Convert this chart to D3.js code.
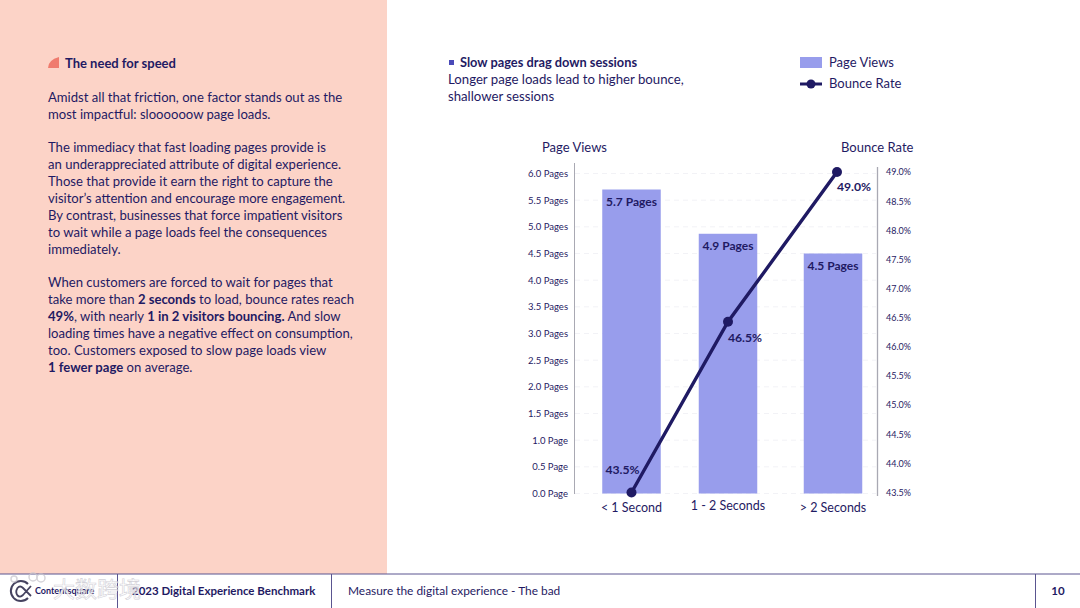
<!DOCTYPE html>
<html>
<head>
<meta charset="utf-8">
<script src="https://cdn.jsdelivr.net/npm/d3@7/dist/d3.min.js"></script>
<style>
  html, body { margin: 0; padding: 0; background: #fff; }
  svg { display: block; }
  text { font-family: "Lato", "Noto Sans", sans-serif; fill: #1f1a63; }
</style>
</head>
<body>
<svg id="slide" width="1080" height="608"></svg>
<script>
// data
const categories = ["< 1 Second", "1 - 2 Seconds", "> 2 Seconds"];
const pageViews = [5.7, 4.87, 4.5];
const pageViewLabels = ["5.7 Pages", "4.9 Pages", "4.5 Pages"];
const bounceRate = [43.5, 46.43, 49.0];
const bounceLabels = ["43.5%", "46.5%", "49.0%"];
const pageTicks = [0, 0.5, 1, 1.5, 2, 2.5, 3, 3.5, 4, 4.5, 5, 5.5, 6];
const bounceTicks = [43.5, 44, 44.5, 45, 45.5, 46, 46.5, 47, 47.5, 48, 48.5, 49];

const leftParagraphs = [
  [[["Amidst all that friction, one factor stands out as the", 0]], [["most impactful: sloooooow page loads.", 0]]],
  [[["The immediacy that fast loading pages provide is", 0]],
   [["an underappreciated attribute of digital experience.", 0]],
   [["Those that provide it earn the right to capture the", 0]],
   [["visitor\u2019s attention and encourage more engagement.", 0]],
   [["By contrast, businesses that force impatient visitors", 0]],
   [["to wait while a page loads feel the consequences", 0]],
   [["immediately.", 0]]],
  [[["When customers are forced to wait for pages that", 0]],
   [["take more than ", 0], ["2 seconds", 1], [" to load, bounce rates reach", 0]],
   [["49%", 1], [", with nearly ", 0], ["1 in 2 visitors bouncing.", 1], [" And slow", 0]],
   [["loading times have a negative effect on consumption,", 0]],
   [["too. Customers exposed to slow page loads view", 0]],
   [["1 fewer page", 1], [" on average.", 0]]]
];

const svg = d3.select("#slide");
const navy = "#1f1a63";
const barColor = "#989dec";

// ---- panel
svg.append("rect").attr("width", 387).attr("height", 574).attr("fill", "#fcd3c7");

// ---- left text
svg.append("path").attr("d", "M48 68Q48 60 59 57V68Z").attr("fill", "#ef7b6e");
svg.append("text").attr("x", 65).attr("y", 67.5).attr("font-size", 13)
  .attr("font-weight", 700).text("The need for speed");

let lineY = 102;
leftParagraphs.forEach(par => {
  par.forEach(line => {
    const t = svg.append("text").attr("x", 48).attr("y", lineY).attr("font-size", 13.1);
    line.forEach(run => t.append("tspan").attr("font-weight", run[1] ? 700 : 400).text(run[0]));
    lineY += 17;
  });
  lineY += 16;
});

// ---- chart heading
svg.append("rect").attr("x", 449).attr("y", 60).attr("width", 5).attr("height", 5).attr("fill", "#4a4ab8");
svg.append("text").attr("x", 460).attr("y", 67).attr("font-size", 12.8).attr("font-weight", 700)
  .text("Slow pages drag down sessions");
svg.append("text").attr("x", 448).attr("y", 84).attr("font-size", 13.2).text("Longer page loads lead to higher bounce,");
svg.append("text").attr("x", 448).attr("y", 101).attr("font-size", 13.2).text("shallower sessions");

// ---- legend
svg.append("rect").attr("x", 800).attr("y", 57).attr("width", 22).attr("height", 11).attr("fill", barColor);
svg.append("line").attr("x1", 800).attr("x2", 822).attr("y1", 84).attr("y2", 84)
  .attr("stroke", navy).attr("stroke-width", 3);
svg.append("circle").attr("cx", 811).attr("cy", 84).attr("r", 4.5).attr("fill", navy);
svg.append("text").attr("x", 829).attr("y", 67).attr("font-size", 13).text("Page Views");
svg.append("text").attr("x", 829).attr("y", 88).attr("font-size", 13).text("Bounce Rate");

// ---- scales
const y = d3.scaleLinear().domain([0, 6]).range([493.5, 173.5]);
const yRight = d3.scaleLinear().domain([43.5, 49]).range([492.5, 172]);
const xBar = d3.scaleOrdinal().domain(categories).range([631.5, 728, 833]);
const xPoint = d3.scaleOrdinal().domain(categories).range([631.5, 728, 837]);
const barWidth = 58.5;

// ---- gridlines
svg.append("g").selectAll("line").data(pageTicks).enter().append("line")
  .attr("x1", 575).attr("x2", 876)
  .attr("y1", d => y(d)).attr("y2", d => y(d))
  .attr("stroke", "#efeff4").attr("stroke-width", 0.8).attr("stroke-dasharray", "5 4");

// ---- axes
const leftAxis = svg.append("g").attr("transform", "translate(574,0)")
  .call(d3.axisLeft(y).tickValues(pageTicks).tickSize(0).tickPadding(6)
    .tickFormat(d => d3.format(".1f")(d) + (d <= 1 ? " Page" : " Pages")));
leftAxis.select(".domain").attr("stroke", "#a9a9b3").attr("d", "M0.5,163V494");
leftAxis.selectAll("text").attr("font-size", 9.5);

const rightAxis = svg.append("g").attr("transform", "translate(877,0)")
  .call(d3.axisRight(yRight).tickValues(bounceTicks).tickSize(0).tickPadding(9)
    .tickFormat(d => d3.format(".1f")(d) + "%"));
rightAxis.select(".domain").attr("stroke", "#a9a9b3").attr("stroke-width", 1.3).attr("d", "M0.5,167V496");
rightAxis.selectAll("text").attr("font-size", 9);

// ---- axis titles
svg.append("text").attr("x", 542).attr("y", 151.5).attr("font-size", 13).text("Page Views");
svg.append("text").attr("x", 841).attr("y", 151.5).attr("font-size", 13).text("Bounce Rate");

// ---- bars
svg.append("g").selectAll("rect").data(categories).enter().append("rect")
  .attr("x", d => xBar(d) - barWidth / 2)
  .attr("width", barWidth)
  .attr("y", (d, i) => y(pageViews[i]))
  .attr("height", (d, i) => y(0) - y(pageViews[i]))
  .attr("fill", barColor);

// ---- bar labels
svg.append("g").selectAll("text").data(categories).enter().append("text")
  .attr("x", d => xBar(d))
  .attr("y", (d, i) => y(pageViews[i]) + 16)
  .attr("text-anchor", "middle").attr("font-size", 12).attr("font-weight", 700)
  .text((d, i) => pageViewLabels[i]);

// ---- category labels
svg.append("g").selectAll("text").data(categories).enter().append("text")
  .attr("x", d => xBar(d))
  .attr("y", (d, i) => i === 1 ? 510 : 512)
  .attr("text-anchor", "middle").attr("font-size", 12.5)
  .text(d => d);

// ---- line
const line = d3.line().x((d, i) => xPoint(categories[i])).y(d => yRight(d));
svg.append("path").datum(bounceRate).attr("d", line)
  .attr("fill", "none").attr("stroke", navy).attr("stroke-width", 3.4);
svg.append("g").selectAll("circle").data(bounceRate).enter().append("circle")
  .attr("cx", (d, i) => xPoint(categories[i]))
  .attr("cy", d => yRight(d))
  .attr("r", 5).attr("fill", navy);

// ---- line labels
const labelDx = [-9, 17, 17];
const labelDy = [-19, 20, 19];
svg.append("g").selectAll("text").data(bounceRate).enter().append("text")
  .attr("x", (d, i) => xPoint(categories[i]) + labelDx[i])
  .attr("y", (d, i) => yRight(d) + labelDy[i])
  .attr("text-anchor", "middle").attr("font-size", 12.2).attr("font-weight", 700)
  .text((d, i) => bounceLabels[i]);

// ---- footer
svg.append("line").attr("x1", 0).attr("x2", 1080).attr("y1", 574).attr("y2", 574).attr("stroke", "#5a5590").attr("stroke-width", 1);
[117.5, 331.5, 1035.5].forEach(x => {
  svg.append("line").attr("x1", x).attr("x2", x).attr("y1", 574).attr("y2", 608).attr("stroke", "#5a5590").attr("stroke-width", 1);
});

// logo mark
svg.append("path").attr("d", "M28 584A10 10 0 1 0 28 598")
  .attr("fill", "none").attr("stroke", "#45425f").attr("stroke-width", 2);
svg.append("path").attr("d", "M31 586L23 595Q20 598 17.5 595.5Q15 592 17.5 588Q20 585 23 588L31 596")
  .attr("fill", "none").attr("stroke", "#45425f").attr("stroke-width", 1.8);
svg.append("text").attr("x", 35).attr("y", 594).attr("font-size", 9).attr("font-weight", 700).text("Contentsquare");
svg.append("text").attr("x", 132).attr("y", 595).attr("font-size", 11.5).attr("font-weight", 700).text("2023 Digital Experience Benchmark");
svg.append("text").attr("x", 348).attr("y", 595).attr("font-size", 11.9).text("Measure the digital experience - The bad");
svg.append("text").attr("x", 1058).attr("y", 595).attr("text-anchor", "middle").attr("font-size", 11.5).attr("font-weight", 700).text("10");

// watermark sitting over the footer
const mark = svg.append("g").attr("opacity", 0.75);
[[14, 579, 3], [33, 577, 4], [41, 578, 4]].forEach(c => {
  mark.append("circle").attr("cx", c[0]).attr("cy", c[1]).attr("r", c[2])
    .attr("fill", "none").attr("stroke", "#c9c7cf").attr("stroke-width", 1.5);
});
mark.append("text").attr("x", 53).attr("y", 597).attr("font-size", 22)
  .style("font-family", "'Noto Sans CJK SC'")
  .style("fill", "#ffffff").style("stroke", "#c4c2cb").style("stroke-width", 0.6)
  .text("大数跨境");
</script>
</body>
</html>
